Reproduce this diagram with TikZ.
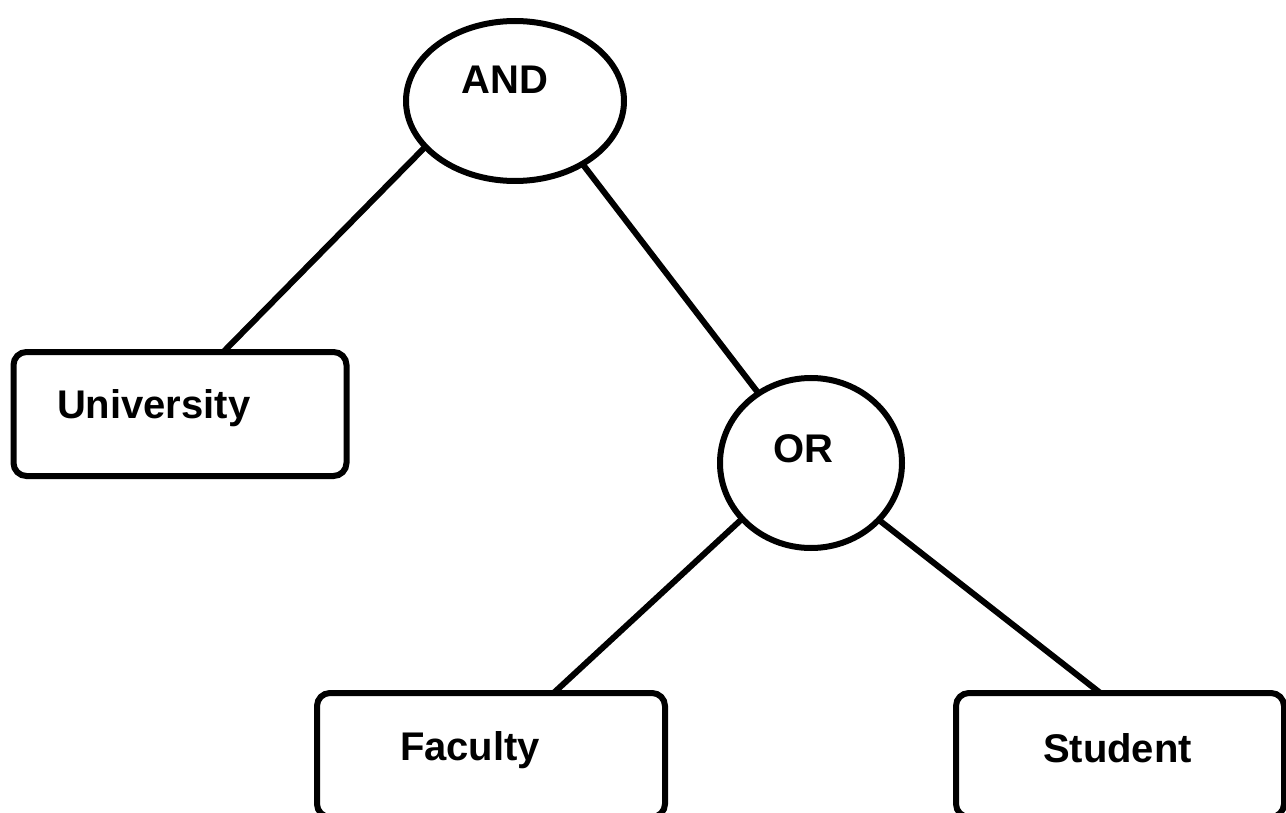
\documentclass[tikz,border=0pt]{standalone}
\usepackage{fontspec}
\setmainfont{Liberation Sans}
\usetikzlibrary{shapes.geometric,calc}
\begin{document}
\begin{tikzpicture}[x=1pt,y=-1pt,
  every node/.style={inner sep=0pt, outer sep=0pt},
  oval/.style={draw, ellipse, line width=6pt},
  leaf/.style={draw, rectangle, rounded corners=13pt, line width=6pt},
  lbl/.style={anchor=base west, font=\fontsize{40}{48}\selectfont\bfseries},
  clbl/.style={font=\fontsize{40}{48}\selectfont\bfseries},
  edge/.style={line width=6pt}]
\useasboundingbox (0,0) rectangle (1286,813);
\clip (0,0) rectangle (1286,813);
\node[oval, minimum width=218pt, minimum height=160pt] (and) at (515,101) {};
\node[clbl] (andt) at (505,80) {AND};
\node[oval, minimum width=182pt, minimum height=170pt] (or) at (811,463) {};
\node[clbl] (ort) at (803,449) {OR};
\node[leaf, minimum width=333pt, minimum height=124pt] (univ) at (180,414) {};
\node[lbl] (univt) at (57,418) {University};
\node[leaf, minimum width=348pt, minimum height=124pt] (fac) at (491,755) {};
\node[lbl] (fact) at (400,760) {Faculty};
\node[leaf, minimum width=328pt, minimum height=124pt] (stu) at (1120,755) {};
\node[lbl] (stut) at (1043,762) {Student};
\draw[edge] (and.207) -- ($(univ.north west)!0.63!(univ.north east)$);
\draw[edge] (and.317) -- (or.127);
\draw[edge] (or.219) -- ($(fac.north west)!0.68!(fac.north east)$);
\draw[edge] (or.320) -- ($(stu.north west)!0.44!(stu.north east)$);
\end{tikzpicture}
\end{document}
